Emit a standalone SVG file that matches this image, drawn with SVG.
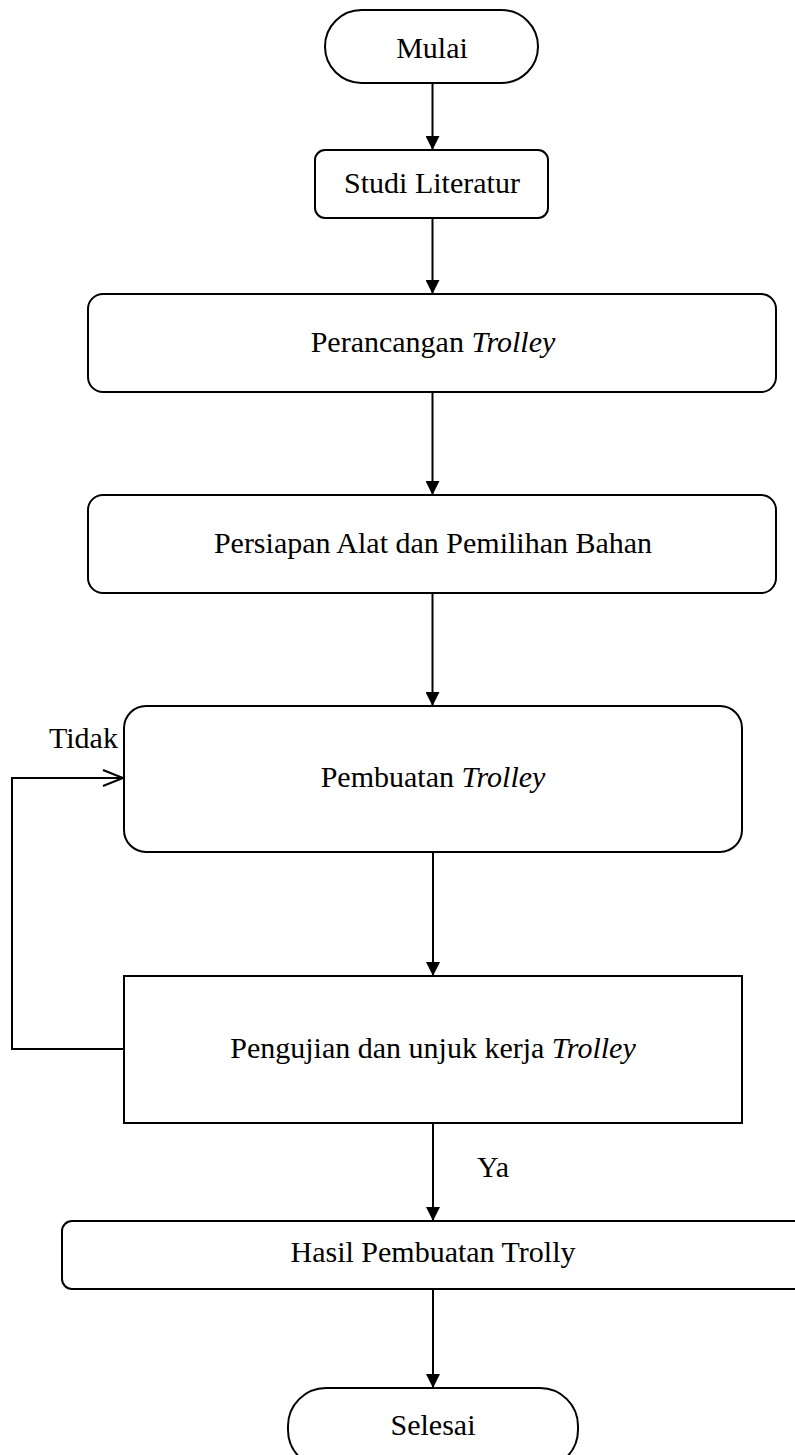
<svg xmlns="http://www.w3.org/2000/svg" width="795" height="1455" viewBox="0 0 795 1455">
<style>
.box{fill:#fff;stroke:#000;stroke-width:2}
.t{font-family:"Liberation Serif","Times New Roman",serif;font-size:30px;fill:#000;text-anchor:middle}
.i{font-style:italic}
.c{fill:none;stroke:#000;stroke-width:2}
</style>
<defs>
<marker id="ah" markerUnits="userSpaceOnUse" markerWidth="14" markerHeight="14" refX="14" refY="7" orient="auto">
<path d="M0,0 L14,7 L0,14 z" fill="#000"/>
</marker>
<marker id="open" markerUnits="userSpaceOnUse" markerWidth="24" markerHeight="20" refX="21" refY="10" orient="auto">
<path d="M1,2 L21,10 L1,18" fill="none" stroke="#000" stroke-width="2"/>
</marker>
</defs>
<rect width="795" height="1455" fill="#fff"/>
<g id="connectors">
<line class="c" x1="432.5" y1="83" x2="432.5" y2="150" marker-end="url(#ah)"/>
<line class="c" x1="432.5" y1="218" x2="432.5" y2="294" marker-end="url(#ah)"/>
<line class="c" x1="432.5" y1="392" x2="432.5" y2="495" marker-end="url(#ah)"/>
<line class="c" x1="432.5" y1="593" x2="432.5" y2="706" marker-end="url(#ah)"/>
<line class="c" x1="433" y1="852" x2="433" y2="976" marker-end="url(#ah)"/>
<line class="c" x1="433" y1="1123" x2="433" y2="1221" marker-end="url(#ah)"/>
<line class="c" x1="433" y1="1289" x2="433" y2="1388" marker-end="url(#ah)"/>
<polyline class="c" points="125,1049 12,1049 12,778 123,778" marker-end="url(#open)"/>
<text class="t" x="49" y="748" style="text-anchor:start">Tidak</text>
<text class="t" x="477" y="1177" style="text-anchor:start">Ya</text>
</g>
<g id="mulai">
<rect class="box" x="325" y="10" width="213" height="73" rx="36.5"/>
<text class="t" x="432" y="58">Mulai</text>
</g>
<g id="studi">
<rect class="box" x="315" y="150" width="233" height="68" rx="10"/>
<text class="t" x="432" y="193">Studi Literatur</text>
</g>
<g id="perancangan">
<rect class="box" x="88" y="294" width="688" height="98" rx="15"/>
<text class="t" x="433" y="352">Perancangan <tspan class="i">Trolley</tspan></text>
</g>
<g id="persiapan">
<rect class="box" x="88" y="495" width="688" height="98" rx="15"/>
<text class="t" x="433" y="553">Persiapan Alat dan Pemilihan Bahan</text>
</g>
<g id="pembuatan">
<rect class="box" x="124" y="706" width="618" height="146" rx="22"/>
<text class="t" x="433" y="787">Pembuatan <tspan class="i">Trolley</tspan></text>
</g>
<g id="pengujian">
<rect class="box" x="124" y="976" width="618" height="147"/>
<text class="t" x="433" y="1058">Pengujian dan unjuk kerja <tspan class="i">Trolley</tspan></text>
</g>
<g id="hasil">
<rect class="box" x="62" y="1221" width="745" height="68" rx="10"/>
<text class="t" x="433" y="1262">Hasil Pembuatan Trolly</text>
</g>
<g id="selesai">
<rect class="box" x="288" y="1388" width="290" height="80" rx="38"/>
<text class="t" x="433" y="1435">Selesai</text>
</g>
</svg>
